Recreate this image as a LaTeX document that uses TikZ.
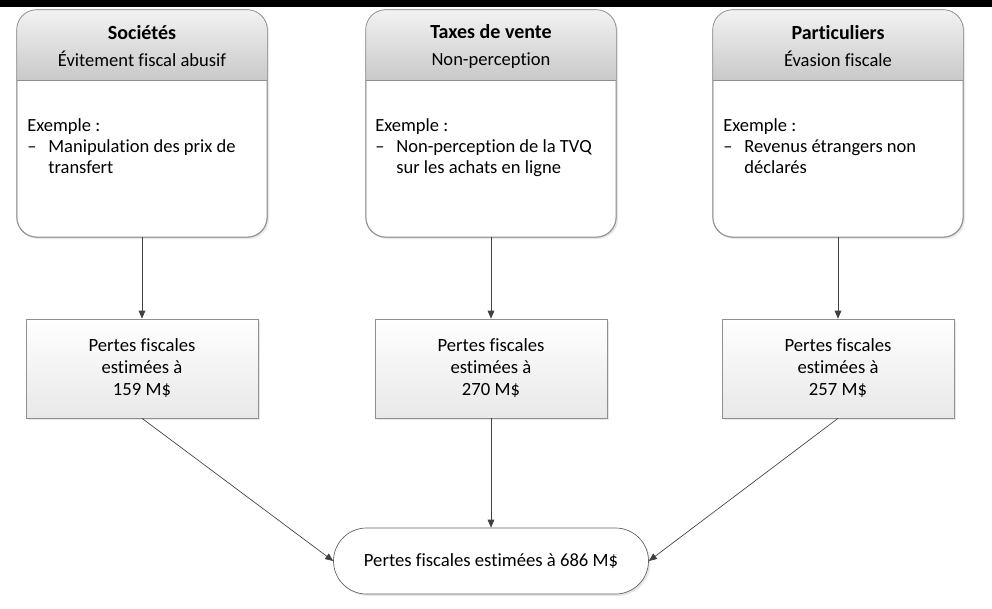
\documentclass[tikz,border=0pt]{standalone}
\usepackage{fontspec}
\setmainfont{Carlito}[Ligatures=NoCommon]
\usepackage{xcolor}
\usetikzlibrary{arrows.meta,shadows}

\definecolor{bordure}{HTML}{8F8F8F}
\definecolor{gristrait}{HTML}{404040}
\definecolor{grispilule}{HTML}{5E5E5E}
\definecolor{enteteHaut}{HTML}{F2F2F2}
\definecolor{enteteBas}{HTML}{C9C9C9}
\definecolor{perteBas}{HTML}{E8E8E8}

\newcommand{\tiret}{\makebox[15.75pt][l]{–}}
\newcommand{\retrait}{\hspace*{15.75pt}}

\begin{document}
\begin{tikzpicture}[x=0.75pt, y=-0.75pt, line width=0.5pt,
    font=\fontsize{13.9}{15.75}\selectfont,
    ombre/.style={drop shadow={shadow xshift=1.5pt, shadow yshift=-1.5pt, fill=black!18}},
    cadre/.style={draw=bordure, fill=white, rounded corners=15pt,
                  minimum width=187.5pt, minimum height=170.25pt, ombre},
    entete/.style={top color=enteteHaut, bottom color=enteteBas},
    titre/.style={inner sep=0pt, align=center},
    texte/.style={inner sep=0pt, align=left, anchor=north west},
    perte/.style={draw=bordure, top color=white, bottom color=perteBas,
                  minimum width=174pt, minimum height=74.25pt, align=center,
                  ombre, font=\fontsize{14}{16.5}\selectfont},
    total/.style={draw=grispilule, fill=white, rounded corners=24.75pt,
                  minimum width=236.25pt, minimum height=49.5pt, ombre,
                  font=\fontsize{14}{16.5}\selectfont},
    fleche/.style={draw=gristrait, -{Triangle[length=6pt,width=5pt]}}]

    \useasboundingbox (0,0) rectangle (992,608);
    \fill (0,0) rectangle (992,7);

    % cadres du haut
    \node[cadre] (soc) at (142,123.5) {};
    \node[cadre] (tax) at (491,123.5) {};
    \node[cadre] (par) at (838,123.5) {};

    \shade[entete] (17,80) [rounded corners=15pt] -- (17,10) -- (267,10) [sharp corners] -- (267,80) -- cycle;
    \shade[entete] (366,80) [rounded corners=15pt] -- (366,10) -- (616,10) [sharp corners] -- (616,80) -- cycle;
    \shade[entete] (713,80) [rounded corners=15pt] -- (713,10) -- (963,10) [sharp corners] -- (963,80) -- cycle;
    \draw[bordure, rounded corners=15pt] (soc.north west) rectangle (soc.south east)
                                         (tax.north west) rectangle (tax.south east)
                                         (par.north west) rectangle (par.south east);
    \draw[bordure] (17,80) -- (267,80)
                   (366,80) -- (616,80)
                   (713,80) -- (963,80);

    \node[titre] (tsoc) at (142,46) {{\fontsize{15}{15.75}\selectfont\textbf{Sociétés}}\\[4.5pt]Évitement fiscal abusif};
    \node[titre] (ttax) at (491,46) {{\fontsize{15}{15.75}\selectfont\textbf{Taxes de vente}}\\[4.5pt]Non-perception};
    \node[titre] (tpar) at (838,46) {{\fontsize{15}{15.75}\selectfont\textbf{Particuliers}}\\[4.5pt]Évasion fiscale};

    \node[texte] (esoc) at (27,118) {Exemple :\\\tiret Manipulation des prix de\\\retrait transfert};
    \node[texte] (etax) at (375,118) {Exemple :\\\tiret Non-perception de la TVQ\\\retrait sur les achats en ligne};
    \node[texte] (epar) at (723,118) {Exemple :\\\tiret Revenus étrangers non\\\retrait déclarés};

    % pertes
    \node[perte] (psoc) at (142,368.5) {Pertes fiscales\\estimées à\\159 M\$};
    \node[perte] (ptax) at (491,368.5) {Pertes fiscales\\estimées à\\270 M\$};
    \node[perte] (ppar) at (838,368.5) {Pertes fiscales\\estimées à\\257 M\$};

    \node[total] (tot) at (491,561) {Pertes fiscales estimées à 686 M\$};

    \draw[fleche] (soc) -- (psoc);
    \draw[fleche] (tax) -- (ptax);
    \draw[fleche] (par) -- (ppar);
    \draw[fleche] (psoc.south) -- (tot.west);
    \draw[fleche] (ptax) -- (tot);
    \draw[fleche] (ppar.south) -- (tot.east);
\end{tikzpicture}
\end{document}
